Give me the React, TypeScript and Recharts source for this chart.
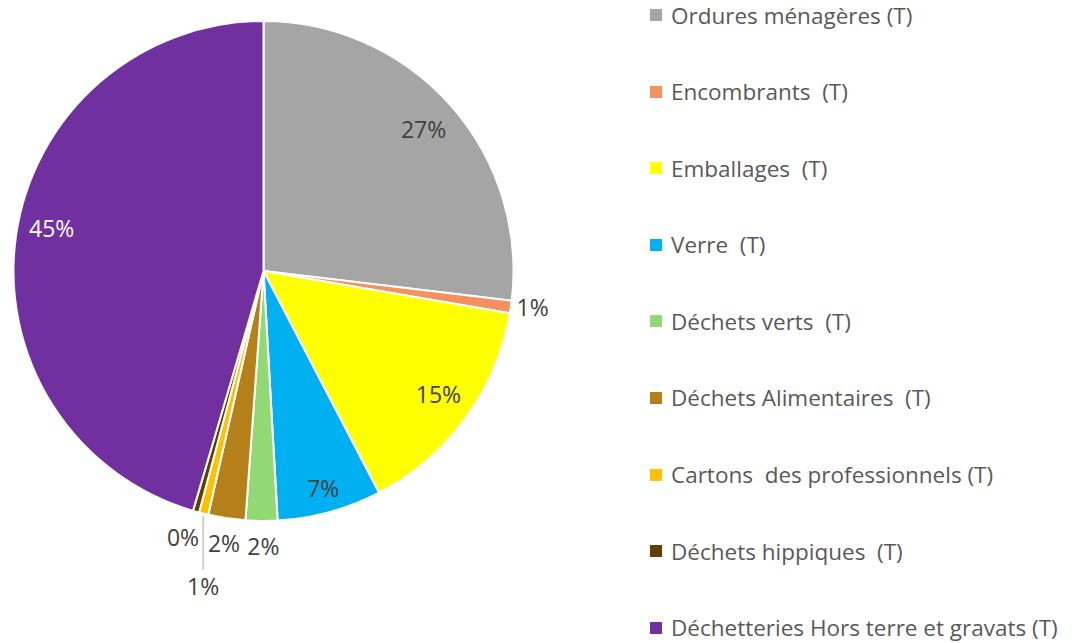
import { PieChart, Pie, Cell } from "recharts"

const categories = [
  "Ordures ménagères (T)",
  "Encombrants  (T)",
  "Emballages  (T)",
  "Verre  (T)",
  "Déchets verts  (T)",
  "Déchets Alimentaires  (T)",
  "Cartons  des professionnels (T)",
  "Déchets hippiques  (T)",
  "Déchetteries Hors terre et gravats (T)",
]

// share of each category, in %
const shares = [26.9, 0.8, 14.65, 6.75, 2.05, 2.4, 0.6, 0.4, 45.45]

const colors = [
  "#a5a5a5",
  "#f4915f",
  "#ffff00",
  "#00b0f0",
  "#92d976",
  "#b5801a",
  "#ffc000",
  "#5e4000",
  "#7030a0",
]

const data = categories.map((name, i) => ({ name, value: shares[i] }))

/** Label placement per slice: radius from centre, nudges, colour. */
const LABELS = [
  { r: 214, dx: 0, dy: 0, fill: "#404040" },
  { r: 268, dx: 4, dy: -3, fill: "#404040" },
  { r: 214, dx: 2, dy: -3, fill: "#404040" },
  { r: 225, dx: 0, dy: 0, fill: "#404040" },
  { r: 275, dx: 2, dy: 0, fill: "#404040" },
  { r: 275, dx: 1, dy: 0, fill: "#404040" },
  { r: 0, dx: 0, dy: 0, fill: "#404040", leader: true },
  { r: 276, dx: -6, dy: 0, fill: "#404040" },
  { r: 214, dx: 0, dy: -13, fill: "#ffffff" },
]

const RAD = Math.PI / 180
const FONT = "'Open Sans', 'Noto Sans', sans-serif"

function renderLabel(props: any) {
  const { cx, cy, midAngle, outerRadius, percent, index } = props
  const cfg = LABELS[index]
  const txt = `${Math.round(percent * 100)}%`
  const cos = Math.cos(-midAngle * RAD)
  const sin = Math.sin(-midAngle * RAD)
  if (cfg.leader) {
    const x = cx + (outerRadius + 2) * cos
    const y = cy + (outerRadius + 2) * sin
    return (
      <g>
        <line x1={x} y1={y} x2={x} y2={y + 54} stroke="#a6a6a6" strokeWidth={1} />
        <text
          x={x}
          y={y + 70}
          fill={cfg.fill}
          fontSize={23}
          fontFamily={FONT}
          textAnchor="middle"
          dominantBaseline="central"
        >
          {txt}
        </text>
      </g>
    )
  }
  const x = cx + cfg.r * cos + cfg.dx
  const y = cy + cfg.r * sin + cfg.dy
  return (
    <text
      x={x}
      y={y}
      fill={cfg.fill}
      fontSize={23}
      fontFamily={FONT}
      textAnchor="middle"
      dominantBaseline="central"
    >
      {txt}
    </text>
  )
}

const ROW_H = 76.6

function LegendBox() {
  return (
    <div
      style={{
        position: "absolute",
        left: 650,
        top: 15 - ROW_H / 2,
        fontFamily: FONT,
      }}
    >
      {categories.map((c, i) => (
        <div
          key={c}
          style={{
            height: ROW_H,
            display: "flex",
            alignItems: "center",
            whiteSpace: "pre",
          }}
        >
          <span
            style={{
              width: 12,
              height: 12,
              background: colors[i],
              display: "inline-block",
              marginRight: 9,
            }}
          />
          <span style={{ fontSize: 22.5, color: "#595959" }}>{c}</span>
        </div>
      ))}
    </div>
  )
}

export default function App() {
  return (
    <div style={{ position: "absolute", left: 0, top: 0, width: 1075, height: 643, background: "#fff" }}>
      <PieChart width={1075} height={643} margin={{ top: 0, right: 0, bottom: 0, left: 0 }}>
        <Pie
          data={data}
          dataKey="value"
          nameKey="name"
          cx={263.5}
          cy={271}
          outerRadius={250}
          startAngle={90}
          endAngle={-270}
          stroke="#ffffff"
          strokeWidth={2}
          label={renderLabel}
          labelLine={false}
          isAnimationActive={false}
        >
          {data.map((d, i) => (
            <Cell key={d.name} fill={colors[i]} />
          ))}
        </Pie>
      </PieChart>
      <LegendBox />
    </div>
  )
}
